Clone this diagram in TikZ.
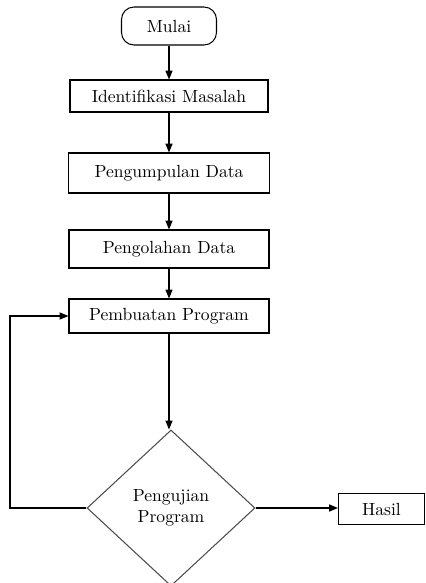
\documentclass[tikz,border=0pt]{standalone}
\usetikzlibrary{shapes.geometric,arrows.meta}

\begin{document}
\begin{tikzpicture}[
  stepbox/.style={draw, semithick, minimum width=4cm, inner sep=0pt},
  startbox/.style={draw, semithick, rounded corners=2.5mm, minimum width=1.9cm, minimum height=0.76cm},
  testbox/.style={draw=black!70, semithick, diamond, minimum width=3.36cm, minimum height=3.12cm, inner sep=0pt, align=center},
  flow/.style={-{Triangle[length=5pt,width=4pt]}, semithick}]

\useasboundingbox (0,0) rectangle (8.52,-11.66);

\node [startbox] (mulai) at (3.38,-0.52) {Mulai};
\node [stepbox, minimum width=3.96cm, minimum height=0.64cm] (identifikasi) at (3.38,-1.92) {Identifikasi Masalah};
\node [stepbox, minimum width=4.02cm, minimum height=0.8cm]  (pengumpulan) at (3.38,-3.46) {Pengumpulan Data};
\node [stepbox, minimum height=0.76cm] (pengolahan) at (3.38,-4.98) {Pengolahan Data};
\node [stepbox, minimum height=0.68cm] (pembuatan) at (3.38,-6.32) {Pembuatan Program};
\node [testbox] (pengujian) at (3.42,-10.16) {Pengujian\\Program};
\node [stepbox, minimum width=1.72cm, minimum height=0.62cm] (hasil) at (7.63,-10.18) {Hasil};
\coordinate (balik) at (0.2,-10.16);

\begin{scope}[flow]
  \draw (mulai) -- (identifikasi);
  \draw (identifikasi) -- (pengumpulan);
  \draw (pengumpulan) -- (pengolahan);
  \draw (pengolahan) -- (pembuatan);
  \draw (pembuatan) -- (pembuatan |- pengujian.north);
  \draw (pengujian.east) -- (hasil.west |- pengujian.east);
  \draw (pengujian.west) -- (balik) |- (pembuatan.west);
\end{scope}
\end{tikzpicture}
\end{document}
